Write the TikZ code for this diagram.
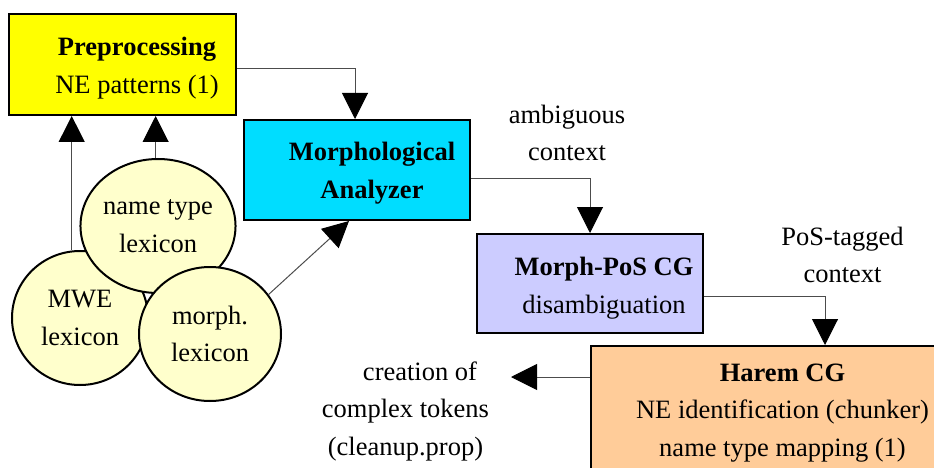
\documentclass[tikz,border=0pt]{standalone}
\usepackage{fontspec}
\setmainfont{Liberation Serif}
\usetikzlibrary{arrows.meta,shapes.geometric,calc}
\definecolor{preY}{HTML}{FFFF00}
\definecolor{morC}{HTML}{00DDFF}
\definecolor{posL}{HTML}{CCCCFF}
\definecolor{harP}{HTML}{FFCC99}
\definecolor{lexY}{HTML}{FFFFCC}
\begin{document}
\begin{tikzpicture}[x=1pt,y=-1pt,
 every node/.style={font=\fontsize{26.5}{37.5}\selectfont, inner sep=0pt, align=center},
 stagebox/.style={draw=black,line width=2pt,rectangle},
 lexnode/.style={draw=black,line width=2pt,ellipse,fill=lexY,minimum width=142pt,minimum height=134pt},
 conn/.style={draw=black!70,line width=1pt,-{Triangle[length=26pt,width=26pt,color=black]}},
]
\useasboundingbox (0,0) rectangle (934,468);
\clip (0,0) rectangle (934,468);

% stage boxes
\node[stagebox,fill=preY,minimum width=227pt,minimum height=101pt] (pre) at (122.5,64.5) {};
\node (pretxt) at (137,68) {\textbf{Preprocessing}\\NE patterns (1)};

\node[stagebox,fill=morC,minimum width=226pt,minimum height=100pt] (morph) at (357,170) {};
\node (morphtxt) at (372,173) {\textbf{Morphological}\\\textbf{Analyzer}};

\node[stagebox,fill=posL,minimum width=226pt,minimum height=99pt] (pos) at (590,283.5) {};
\node (postxt) at (604,288) {\textbf{Morph-PoS CG}\\disambiguation};

\node[stagebox,fill=harP,minimum width=354pt,minimum height=140pt] (harem) at (768,416) {};
\node (haremtxt) at (782.5,413) {\textbf{Harem CG}\\NE identification (chunker)\\name type mapping (1)};

% labels
\node (amb) at (567,133) {ambiguous\\context};
\node (post) at (842.5,255) {PoS-tagged\\context};
\node (cre) at (405.5,411) {\hspace*{29pt}creation of\\complex tokens\\(cleanup.prop)};

% lexicons
\node[lexnode,minimum width=136pt] (mwe) at (80,318) {MWE\\lexicon};
\node[lexnode] (nt) at (158,226) {name type\\lexicon};
\node[lexnode] (mor) at (210,334) {morph.\\lexicon};

% connectors
\draw[conn] ([yshift=-4.5pt]pre.east) -| ([xshift=-2pt]morph.north);
\draw[conn] ([yshift=-8pt]morph.east) -| (pos.north);
\draw[conn] ([yshift=-12.5pt]pos.east) -| ([xshift=57pt]harem.north);
\coordinate (cx) at (511,377);
\draw[conn] ([yshift=39pt]harem.west) -- (cx);
\draw[conn] (mwe.97) -- (mwe.97 |- pre.south);
\draw[conn] (nt.92) -- (nt.92 |- pre.south);
\draw[conn] (mor.34) -- ([xshift=-8pt]morph.south);
\end{tikzpicture}
\end{document}
